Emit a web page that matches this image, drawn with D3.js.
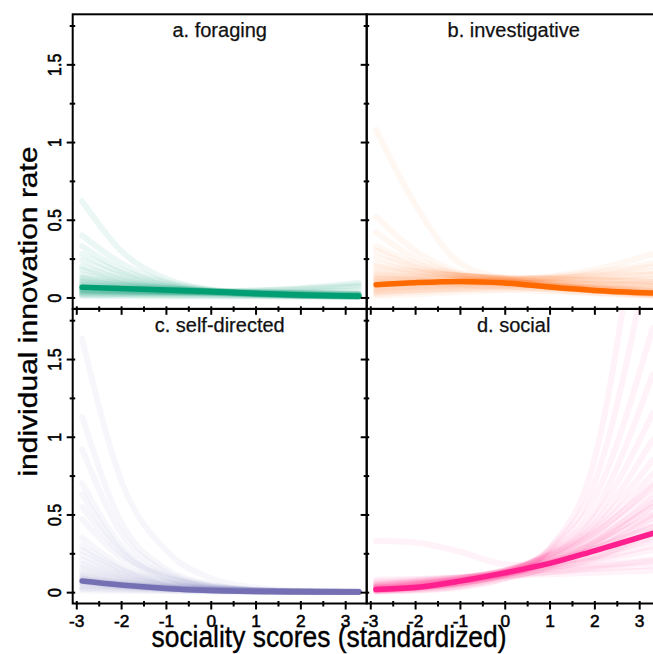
<!DOCTYPE html>
<html>
<head>
<meta charset="utf-8">
<script src="https://cdn.jsdelivr.net/npm/d3@7"></script>
<style>
  body { margin: 0; background: #fff; }
  svg { display: block; font-family: "Liberation Sans", Arial, Helvetica, sans-serif; }
</style>
</head>
<body>
<svg id="chart" width="653" height="654"></svg>
<script>
// sociality score grid shared by every curve
var xs = [-2.87, -2, -1, 0, 1, 2, 3.3];

var panelTitles = ['a. foraging', 'b. investigative', 'c. self-directed', 'd. social'];
var panelColors = ['#009E73', '#FF6A00', '#7570B3', '#FF1F8E'];

var xMajor = [-3, -2, -1, 0, 1, 2, 3];
var xMinor = [-2.5, -1.5, -0.5, 0.5, 1.5, 2.5];
var yMajor = [0, 0.5, 1, 1.5];
var yMinor = [0.25, 0.75, 1.25, 1.75];

// posterior mean of each panel
var meanForaging = [0.066, 0.058, 0.048, 0.038, 0.026, 0.016, 0.008];
var meanInvestigative = [0.082, 0.095, 0.103, 0.093, 0.067, 0.045, 0.028];
var meanSelfDirected = [0.072, 0.046, 0.024, 0.01, 0.004, 0.002, 0.001];
var meanSocial = [0.017, 0.03, 0.071, 0.124, 0.185, 0.266, 0.378];

// posterior draws
var drawsForaging = [
  [0.62, 0.30, 0.12, 0.05, 0.025, 0.012, 0.005],
  [0.40, 0.22, 0.10, 0.05, 0.025, 0.013, 0.006],
  [0.33, 0.18, 0.09, 0.045, 0.025, 0.015, 0.008],
  [0.28, 0.16, 0.08, 0.04, 0.022, 0.013, 0.007],
  [0.24, 0.14, 0.075, 0.04, 0.025, 0.016, 0.01],
  [0.20, 0.12, 0.07, 0.04, 0.025, 0.017, 0.01],
  [0.18, 0.11, 0.065, 0.04, 0.026, 0.018, 0.012],
  [0.15, 0.10, 0.06, 0.038, 0.026, 0.02, 0.015],
  [0.13, 0.09, 0.06, 0.04, 0.03, 0.024, 0.02],
  [0.12, 0.085, 0.055, 0.035, 0.022, 0.014, 0.008],
  [0.10, 0.08, 0.06, 0.045, 0.035, 0.028, 0.022],
  [0.09, 0.07, 0.05, 0.035, 0.025, 0.018, 0.012],
  [0.08, 0.065, 0.05, 0.038, 0.03, 0.022, 0.015],
  [0.07, 0.06, 0.05, 0.04, 0.032, 0.026, 0.02],
  [0.065, 0.055, 0.045, 0.035, 0.025, 0.018, 0.011],
  [0.06, 0.05, 0.04, 0.03, 0.02, 0.013, 0.007],
  [0.055, 0.05, 0.045, 0.04, 0.035, 0.03, 0.025],
  [0.05, 0.045, 0.04, 0.035, 0.03, 0.027, 0.025],
  [0.03, 0.03, 0.032, 0.035, 0.045, 0.06, 0.095],
  [0.04, 0.038, 0.037, 0.038, 0.045, 0.055, 0.08],
  [0.02, 0.022, 0.025, 0.03, 0.038, 0.05, 0.07],
  [0.045, 0.04, 0.036, 0.034, 0.034, 0.036, 0.045],
  [0.035, 0.03, 0.025, 0.02, 0.016, 0.013, 0.01],
  [0.025, 0.022, 0.018, 0.015, 0.012, 0.01, 0.008],
  [0.015, 0.014, 0.012, 0.01, 0.009, 0.008, 0.007],
  [0.01, 0.009, 0.008, 0.007, 0.006, 0.005, 0.004],
  [0.05, 0.04, 0.03, 0.022, 0.015, 0.01, 0.006],
  [0.08, 0.06, 0.04, 0.028, 0.018, 0.011, 0.006],
  [0.11, 0.075, 0.05, 0.032, 0.02, 0.012, 0.006],
  [0.045, 0.04, 0.035, 0.03, 0.026, 0.022, 0.018]
];

var drawsInvestigative = [
  [1.08, 0.60, 0.22, 0.12, 0.07, 0.045, 0.025],
  [0.52, 0.30, 0.16, 0.11, 0.08, 0.055, 0.035],
  [0.42, 0.25, 0.15, 0.11, 0.08, 0.06, 0.04],
  [0.33, 0.22, 0.15, 0.12, 0.09, 0.07, 0.05],
  [0.30, 0.20, 0.14, 0.11, 0.08, 0.06, 0.04],
  [0.26, 0.19, 0.14, 0.12, 0.095, 0.075, 0.055],
  [0.22, 0.17, 0.14, 0.12, 0.10, 0.085, 0.07],
  [0.20, 0.17, 0.14, 0.12, 0.10, 0.09, 0.08],
  [0.18, 0.16, 0.14, 0.125, 0.115, 0.11, 0.10],
  [0.16, 0.15, 0.14, 0.13, 0.12, 0.11, 0.10],
  [0.14, 0.135, 0.13, 0.125, 0.12, 0.115, 0.11],
  [0.12, 0.12, 0.12, 0.12, 0.125, 0.135, 0.15],
  [0.10, 0.105, 0.11, 0.115, 0.125, 0.14, 0.17],
  [0.08, 0.09, 0.10, 0.11, 0.13, 0.16, 0.22],
  [0.06, 0.075, 0.09, 0.11, 0.135, 0.18, 0.28],
  [0.05, 0.065, 0.08, 0.10, 0.12, 0.15, 0.20],
  [0.04, 0.055, 0.07, 0.085, 0.10, 0.12, 0.15],
  [0.03, 0.045, 0.06, 0.075, 0.09, 0.10, 0.12],
  [0.02, 0.035, 0.05, 0.065, 0.075, 0.08, 0.085],
  [0.01, 0.02, 0.035, 0.05, 0.06, 0.065, 0.07],
  [0.09, 0.10, 0.105, 0.10, 0.085, 0.065, 0.04],
  [0.07, 0.085, 0.095, 0.09, 0.075, 0.055, 0.03],
  [0.11, 0.115, 0.11, 0.10, 0.08, 0.055, 0.03],
  [0.13, 0.125, 0.115, 0.10, 0.075, 0.05, 0.025],
  [0.15, 0.135, 0.12, 0.10, 0.07, 0.045, 0.02],
  [0.08, 0.09, 0.095, 0.09, 0.07, 0.045, 0.02],
  [0.06, 0.07, 0.075, 0.07, 0.055, 0.035, 0.015],
  [0.10, 0.095, 0.085, 0.07, 0.05, 0.03, 0.012],
  [0.04, 0.05, 0.055, 0.05, 0.04, 0.025, 0.01],
  [0.12, 0.11, 0.10, 0.085, 0.065, 0.045, 0.025]
];

var drawsSelfDirected = [
  [1.63, 0.72, 0.27, 0.09, 0.03, 0.01, 0.003],
  [1.13, 0.45, 0.15, 0.05, 0.015, 0.005, 0.001],
  [0.92, 0.38, 0.13, 0.045, 0.015, 0.005, 0.001],
  [0.70, 0.30, 0.11, 0.04, 0.013, 0.004, 0.001],
  [0.63, 0.27, 0.10, 0.035, 0.012, 0.004, 0.001],
  [0.55, 0.25, 0.095, 0.035, 0.012, 0.004, 0.001],
  [0.47, 0.22, 0.09, 0.035, 0.013, 0.005, 0.001],
  [0.35, 0.17, 0.07, 0.028, 0.011, 0.004, 0.001],
  [0.30, 0.15, 0.065, 0.028, 0.012, 0.005, 0.002],
  [0.27, 0.14, 0.06, 0.025, 0.01, 0.004, 0.001],
  [0.24, 0.125, 0.055, 0.024, 0.01, 0.004, 0.002],
  [0.21, 0.11, 0.05, 0.022, 0.01, 0.004, 0.002],
  [0.18, 0.10, 0.045, 0.02, 0.009, 0.004, 0.002],
  [0.16, 0.09, 0.042, 0.02, 0.009, 0.004, 0.002],
  [0.14, 0.08, 0.038, 0.018, 0.008, 0.004, 0.002],
  [0.12, 0.07, 0.035, 0.016, 0.007, 0.003, 0.001],
  [0.10, 0.062, 0.032, 0.016, 0.008, 0.004, 0.002],
  [0.09, 0.055, 0.028, 0.013, 0.006, 0.003, 0.001],
  [0.08, 0.05, 0.027, 0.013, 0.006, 0.003, 0.001],
  [0.07, 0.045, 0.025, 0.012, 0.006, 0.003, 0.001],
  [0.06, 0.04, 0.022, 0.011, 0.005, 0.002, 0.001],
  [0.05, 0.035, 0.02, 0.011, 0.006, 0.003, 0.002],
  [0.04, 0.03, 0.018, 0.01, 0.006, 0.003, 0.002],
  [0.03, 0.022, 0.014, 0.008, 0.005, 0.003, 0.002],
  [0.02, 0.016, 0.011, 0.007, 0.004, 0.003, 0.002],
  [0.01, 0.009, 0.007, 0.005, 0.004, 0.003, 0.002],
  [0.11, 0.06, 0.028, 0.012, 0.005, 0.002, 0.001],
  [0.065, 0.042, 0.024, 0.012, 0.006, 0.003, 0.001],
  [0.085, 0.052, 0.028, 0.013, 0.006, 0.003, 0.001],
  [0.075, 0.048, 0.026, 0.012, 0.005, 0.002, 0.001]
];

var drawsSocial = [
  [0.005, 0.01, 0.03, 0.09, 0.28, 0.85, 3.2],
  [0.008, 0.015, 0.04, 0.11, 0.28, 0.70, 2.3],
  [0.01, 0.02, 0.05, 0.12, 0.27, 0.60, 1.7],
  [0.012, 0.025, 0.055, 0.12, 0.26, 0.52, 1.4],
  [0.015, 0.03, 0.06, 0.13, 0.25, 0.48, 1.15],
  [0.015, 0.03, 0.06, 0.13, 0.24, 0.44, 0.98],
  [0.02, 0.035, 0.07, 0.13, 0.23, 0.40, 0.76],
  [0.02, 0.04, 0.075, 0.135, 0.24, 0.42, 0.85],
  [0.025, 0.045, 0.08, 0.14, 0.24, 0.38, 0.70],
  [0.03, 0.05, 0.085, 0.14, 0.23, 0.36, 0.64],
  [0.03, 0.05, 0.085, 0.14, 0.22, 0.34, 0.58],
  [0.035, 0.055, 0.09, 0.14, 0.21, 0.31, 0.50],
  [0.04, 0.06, 0.09, 0.135, 0.20, 0.28, 0.45],
  [0.045, 0.065, 0.095, 0.13, 0.18, 0.24, 0.35],
  [0.05, 0.07, 0.095, 0.125, 0.16, 0.20, 0.27],
  [0.06, 0.075, 0.095, 0.12, 0.145, 0.17, 0.21],
  [0.07, 0.08, 0.095, 0.11, 0.13, 0.15, 0.17],
  [0.08, 0.085, 0.095, 0.105, 0.115, 0.125, 0.14],
  [0.04, 0.055, 0.075, 0.10, 0.13, 0.16, 0.20],
  [0.02, 0.035, 0.06, 0.10, 0.15, 0.21, 0.30],
  [0.01, 0.02, 0.045, 0.09, 0.16, 0.27, 0.48],
  [0.005, 0.012, 0.035, 0.085, 0.17, 0.32, 0.60],
  [0.33, 0.32, 0.26, 0.18, 0.17, 0.22, 0.40],
  [0.015, 0.03, 0.06, 0.11, 0.19, 0.30, 0.50],
  [0.025, 0.04, 0.07, 0.12, 0.20, 0.32, 0.55],
  [0.03, 0.045, 0.075, 0.12, 0.19, 0.28, 0.42],
  [0.05, 0.065, 0.09, 0.12, 0.17, 0.23, 0.34],
  [0.01, 0.025, 0.055, 0.11, 0.19, 0.32, 0.55],
  [0.02, 0.03, 0.06, 0.11, 0.21, 0.38, 0.68],
  [0.035, 0.05, 0.08, 0.125, 0.19, 0.28, 0.42]
];

var panelMeans = [meanForaging, meanInvestigative, meanSelfDirected, meanSocial];
var panelDraws = [drawsForaging, drawsInvestigative, drawsSelfDirected, drawsSocial];
var drawAlpha = [0.08, 0.05, 0.06, 0.06];

var svg = d3.select('#chart');
var panel_w = 294, panel_h = 294.5;
var col_x = [72.7, 366.7], row_y = [14.3, 309];
var squeeze = 0.88; // axis titles in the reference are drawn a little narrow

function fmt(d) { return d === 0 ? '0' : String(d); }

panelTitles.forEach(function (title, p) {
    var col = p % 2, row = Math.floor(p / 2);
    var x0 = col_x[col], y0 = row_y[row];

    var x = d3.scaleLinear().domain([-3.08, 3.48]).range([x0, x0 + panel_w]);
    var y = d3.scaleLinear().domain([-0.073, 1.822]).range([y0 + panel_h, y0]);

    var clip_id = 'clip' + p;
    svg.append('clipPath').attr('id', clip_id)
        .append('rect')
        .attr('x', x0).attr('y', y0)
        .attr('width', panel_w).attr('height', panel_h);

    var line = d3.line()
        .x(function (d, i) { return x(xs[i]); })
        .y(function (d) { return y(d); })
        .curve(d3.curveMonotoneX);

    var g = svg.append('g').attr('clip-path', 'url(#' + clip_id + ')');

    g.selectAll('path.draw')
        .data(panelDraws[p])
        .enter()
        .append('path')
        .attr('class', 'draw')
        .attr('d', line)
        .attr('fill', 'none')
        .attr('stroke', panelColors[p])
        .attr('stroke-opacity', drawAlpha[p])
        .attr('stroke-width', 6)
        .attr('stroke-linecap', 'round');

    g.append('path')
        .datum(panelMeans[p])
        .attr('d', line)
        .attr('fill', 'none')
        .attr('stroke', panelColors[p])
        .attr('stroke-width', 5.5)
        .attr('stroke-linecap', 'round');

    // frame
    svg.append('rect')
        .attr('x', x0).attr('y', y0)
        .attr('width', panel_w).attr('height', panel_h)
        .attr('fill', 'none')
        .attr('stroke', '#000')
        .attr('stroke-width', 2);

    // x axis ticks
    var xg = svg.append('g').attr('transform', 'translate(0,' + (y0 + panel_h) + ')');
    xg.call(d3.axisBottom(x).tickValues(xMajor).tickSize(6)
        .tickFormat(row === 1 ? fmt : function () { return ''; }));
    xg.selectAll('.tick line').attr('y1', -2.5).attr('stroke-width', 2);
    xg.selectAll('.tick text')
        .attr('y', null).attr('dy', null)
        .attr('transform', 'translate(0,23.5) scale(1.05,1)')
        .style('font-size', '16.5px')
        .style('font-family', '"Liberation Sans", Arial, sans-serif')
        .attr('fill', '#000')
        .attr('stroke', '#000')
        .attr('stroke-width', 0.5);
    var xm = svg.append('g').attr('transform', 'translate(0,' + (y0 + panel_h) + ')');
    xm.call(d3.axisBottom(x).tickValues(xMinor).tickSize(3).tickFormat(''));
    xm.selectAll('.tick line').attr('y1', -2.5).attr('stroke-width', 2);

    // y axis ticks
    var yg = svg.append('g').attr('transform', 'translate(' + x0 + ',0)');
    yg.call(d3.axisLeft(y).tickValues(yMajor).tickSize(6)
        .tickFormat(col === 0 ? fmt : function () { return ''; }));
    yg.selectAll('.tick line').attr('x1', 2.5).attr('stroke-width', 2);
    yg.selectAll('.tick text')
        .attr('x', null).attr('dy', null)
        .attr('transform', 'translate(-11.5,0) scale(1.15,1) rotate(-90)')
        .attr('text-anchor', 'middle')
        .style('font-size', '16px')
        .style('font-family', '"Liberation Sans", Arial, sans-serif')
        .attr('fill', '#000')
        .attr('stroke', '#000')
        .attr('stroke-width', 0.5);
    var ym = svg.append('g').attr('transform', 'translate(' + x0 + ',0)');
    ym.call(d3.axisLeft(y).tickValues(yMinor).tickSize(3).tickFormat(''));
    ym.selectAll('.tick line').attr('x1', 2.5).attr('stroke-width', 2);

    [xg, xm, yg, ym].forEach(function (a) { a.select('.domain').remove(); });

    svg.append('text')
        .attr('x', x0 + panel_w / 2)
        .attr('y', y0 + 23)
        .attr('text-anchor', 'middle')
        .attr('font-size', 20)
        .attr('fill', '#111')
        .attr('stroke', '#111')
        .attr('stroke-width', 0.25)
        .text(title);
});

svg.append('text')
    .attr('transform', 'translate(329,646.5) scale(' + squeeze + ',1)')
    .attr('text-anchor', 'middle')
    .attr('font-size', 30)
    .attr('fill', '#000')
    .attr('stroke', '#000')
    .attr('stroke-width', 0.4)
    .text('sociality scores (standardized)');

svg.append('text')
    .attr('transform', 'translate(36.5,311.5) scale(' + squeeze + ',1) rotate(-90)')
    .attr('text-anchor', 'middle')
    .attr('font-size', 30)
    .attr('fill', '#000')
    .attr('stroke', '#000')
    .attr('stroke-width', 0.4)
    .text('individual innovation rate');
</script>
</body>
</html>
